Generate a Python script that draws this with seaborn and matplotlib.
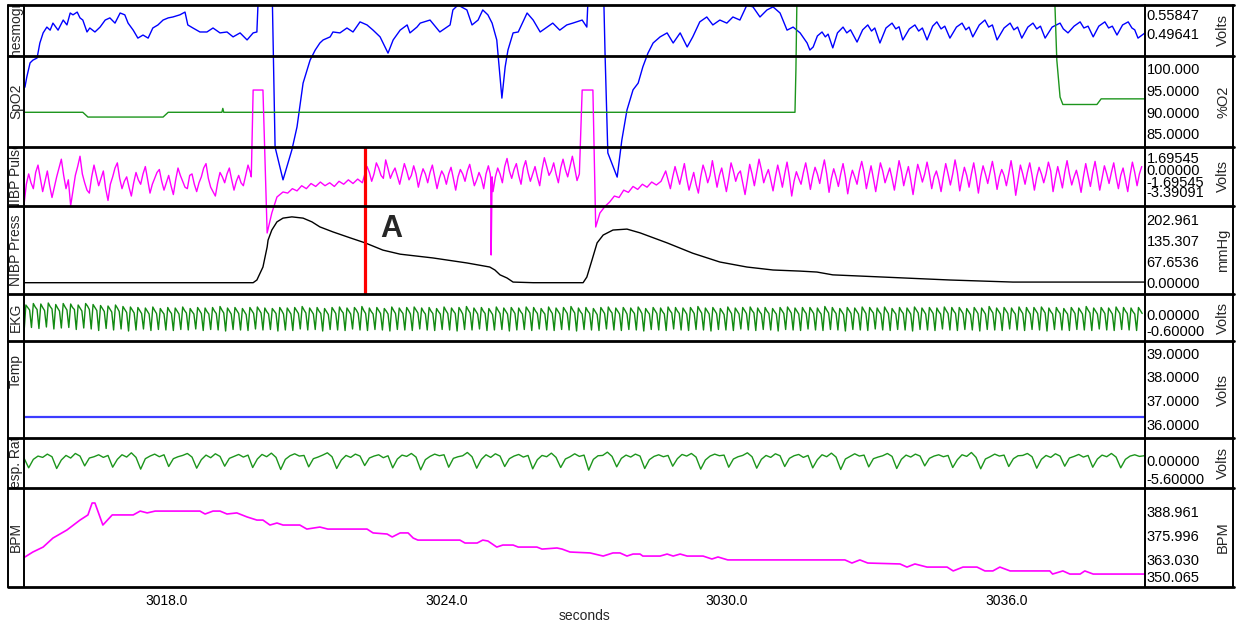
import numpy as np
import matplotlib
matplotlib.use("Agg")
import matplotlib.pyplot as plt
import seaborn as sns
from matplotlib.transforms import Bbox, TransformedBbox
from matplotlib.lines import Line2D

# ------------------------------------------------------------------ data
TIME_LIM = (3014.95, 3038.97)
XTICKS = [3018.0, 3024.0, 3030.0, 3036.0]
XTICK_LABELS = ["3018.0", "3024.0", "3030.0", "3036.0"]
X_LABEL = "seconds"

CHANNELS = ["Plethesmogram", "SpO2", "NIBP Pulse", "NIBP Press", "EKG", "Temp", "Resp. Rate", "BPM"]
UNITS = ["Volts", "%O2", "Volts", "mmHg", "Volts", "Volts", "Volts", "BPM"]
YLIMS = [(0.42455, 0.59113), (81.99, 102.99), (-4.951, 3.052), (-36.05, 244.67),
         (-1.04, 0.84), (35.421, 39.519), (-8.568, 6.732), (347.95, 401.87)]
TICK_POS = [[0.55847, 0.49641], [100.0, 95.0, 90.0, 85.0], [1.69545, 0.0, -1.69545, -3.05],
            [202.961, 135.307, 67.6536, 0.0], [0.0, -0.6], [39.0, 38.0, 37.0, 36.0],
            [0.0, -5.6], [388.961, 375.996, 363.030, 353.4]]
TICK_LABELS = [["0.55847", "0.49641"], ["100.000", "95.0000", "90.0000", "85.0000"],
               ["1.69545", "0.00000", "-1.69545", "-3.39091"],
               ["202.961", "135.307", "67.6536", "0.00000"], ["0.00000", "-0.60000"],
               ["39.0000", "38.0000", "37.0000", "36.0000"], ["0.00000", "-5.60000"],
               ["388.961", "375.996", "363.030", "350.065"]]

PLETH = [(3014.95,0.320),(3014.97,0.323),(3015.01,0.356),(3015.08,0.402),(3015.14,0.411),(3015.23,0.418),
 (3015.29,0.467),(3015.36,0.500),(3015.44,0.519),(3015.51,0.509),(3015.57,0.532),(3015.68,0.509),
 (3015.79,0.542),(3015.87,0.526),(3015.94,0.565),(3016.00,0.559),(3016.09,0.568),(3016.15,0.549),
 (3016.21,0.542),(3016.30,0.503),(3016.36,0.516),(3016.47,0.503),(3016.58,0.519),(3016.69,0.542),
 (3016.79,0.549),(3016.90,0.532),(3017.01,0.565),(3017.11,0.559),(3017.18,0.532),(3017.29,0.509),
 (3017.39,0.483),(3017.50,0.493),(3017.61,0.483),(3017.71,0.516),(3017.82,0.526),(3017.93,0.542),
 (3018.04,0.549),(3018.14,0.552),(3018.29,0.559),(3018.40,0.568),(3018.46,0.526),(3018.57,0.516),
 (3018.72,0.503),(3018.87,0.503),(3019.00,0.516),(3019.15,0.500),(3019.30,0.503),(3019.43,0.487),
 (3019.58,0.500),(3019.73,0.477),(3019.86,0.500),(3019.94,0.503),(3019.96,0.575),(3019.99,0.700),
 (3020.26,0.700),(3020.33,0.127),(3020.50,0.020),(3020.69,0.118),(3020.80,0.193),(3020.86,0.258),
 (3020.93,0.336),(3021.08,0.411),(3021.19,0.444),(3021.29,0.467),(3021.36,0.477),(3021.51,0.487),
 (3021.57,0.503),(3021.72,0.500),(3021.87,0.516),(3022.00,0.503),(3022.15,0.536),(3022.30,0.526),
 (3022.43,0.509),(3022.58,0.487),(3022.75,0.434),(3022.86,0.477),(3023.01,0.509),(3023.16,0.526),
 (3023.22,0.500),(3023.37,0.519),(3023.44,0.532),(3023.65,0.542),(3023.86,0.503),(3024.08,0.526),
 (3024.14,0.575),(3024.25,0.591),(3024.44,0.575),(3024.55,0.526),(3024.68,0.542),(3024.78,0.575),
 (3024.89,0.559),(3024.98,0.532),(3025.08,0.477),(3025.15,0.356),(3025.19,0.287),(3025.26,0.389),
 (3025.32,0.444),(3025.43,0.500),(3025.54,0.503),(3025.73,0.565),(3025.86,0.542),(3026.01,0.503),
 (3026.16,0.519),(3026.28,0.532),(3026.43,0.509),(3026.58,0.526),(3026.71,0.532),(3026.91,0.542),
 (3027.01,0.519),(3027.03,0.591),(3027.06,0.700),(3027.36,0.700),(3027.40,0.434),(3027.46,0.108),
 (3027.66,0.029),(3027.76,0.150),(3027.87,0.248),(3028.00,0.314),(3028.11,0.336),(3028.21,0.389),
 (3028.32,0.434),(3028.43,0.467),(3028.58,0.487),(3028.73,0.500),(3028.86,0.467),(3029.01,0.500),
 (3029.16,0.454),(3029.28,0.487),(3029.43,0.536),(3029.58,0.552),(3029.71,0.526),(3029.86,0.542),
 (3030.01,0.532),(3030.14,0.552),(3030.29,0.542),(3030.44,0.591),(3030.57,0.585),(3030.72,0.552),
 (3030.87,0.575),(3031.00,0.585),(3031.15,0.565),(3031.30,0.509),(3031.43,0.519),(3031.58,0.500),
 (3031.73,0.467),(3031.79,0.444),(3031.86,0.454),(3031.95,0.490),(3032.05,0.503),(3032.12,0.487),
 (3032.18,0.496),(3032.28,0.451),(3032.38,0.500),(3032.50,0.519),(3032.58,0.500),(3032.66,0.510),
 (3032.80,0.470),(3032.92,0.510),(3033.03,0.526),(3033.11,0.506),(3033.18,0.516),(3033.29,0.467),
 (3033.42,0.516),(3033.55,0.532),(3033.63,0.513),(3033.70,0.520),(3033.78,0.477),(3033.92,0.513),
 (3034.04,0.526),(3034.12,0.506),(3034.20,0.516),(3034.30,0.477),(3034.42,0.522),(3034.51,0.536),
 (3034.60,0.513),(3034.68,0.522),(3034.79,0.483),(3034.93,0.519),(3035.05,0.532),(3035.13,0.510),
 (3035.20,0.519),(3035.28,0.487),(3035.42,0.526),(3035.54,0.542),(3035.62,0.519),(3035.70,0.526),
 (3035.80,0.477),(3035.95,0.516),(3036.08,0.532),(3036.16,0.510),(3036.24,0.519),(3036.33,0.483),
 (3036.46,0.519),(3036.57,0.532),(3036.65,0.513),(3036.73,0.522),(3036.83,0.483),(3036.98,0.519),
 (3037.15,0.532),(3037.22,0.513),(3037.32,0.500),(3037.45,0.522),(3037.58,0.536),(3037.66,0.516),
 (3037.75,0.522),(3037.86,0.487),(3037.98,0.522),(3038.11,0.536),(3038.19,0.516),(3038.27,0.522),
 (3038.37,0.493),(3038.49,0.526),(3038.61,0.536),(3038.69,0.516),(3038.75,0.510),(3038.82,0.483),
 (3038.97,0.500)]

SPO2 = [(3014.95,90.0),(3016.21,90.0),(3016.32,88.9),(3017.93,88.9),(3018.04,90.0),(3019.19,90.0),
 (3019.21,90.9),(3019.23,90.0),(3031.47,90.0),(3031.49,99.8),(3031.51,114.8),(3031.53,125.0),
 (3037.02,125.0),(3037.04,114.8),(3037.08,102.1),(3037.15,93.5),(3037.21,91.8),(3037.94,91.8),
 (3038.03,93.1),(3038.97,93.1)]

PULSE_DT = 0.05
PULSE_A_T0 = 3014.95
PULSE_A = [-4.8,-2.0,-0.6,-1.8,-2.6,-0.4,0.6,-1.2,-3.0,-1.6,
 -0.2,-2.2,-3.8,-2.4,-1.0,0.2,1.4,-0.8,-2.6,-1.4,
 -4.9,-2.8,-0.8,0.4,1.8,-0.6,-1.8,-2.8,-3.2,-1.0,
 0.6,-0.8,-2.2,-1.2,-0.2,-2.6,-4.2,-2.0,-1.0,0.2,
 0.9,-1.2,-2.6,-1.6,-1.0,-2.4,-3.6,-1.8,-0.4,-1.4,
 -2.0,-0.6,0.4,-1.4,-3.2,-2.0,-1.2,-0.4,0.0,-1.6,
 -2.8,-1.8,-0.8,-2.2,-3.4,-1.4,0.2,-0.8,-1.6,-2.4,
 -2.6,-0.8,-0.6,-2.0,-3.0,-1.8,-1.0,0.2,0.8,-1.2,
 -2.4,-3.0,-3.6,-1.8,-0.4,-1.0,-1.8,-0.6,0.2,-1.4,
 -2.8,-1.6,-0.8,-1.8,-2.2,-0.8,0.6,-0.4]
PULSE_EVENT1 = [(3019.82,-1.0),(3019.86,10.78),(3020.07,10.78),(3020.16,-8.61),(3020.26,-5.90),
 (3020.37,-3.73),(3020.50,-3.05),(3020.6,-3.2),(3020.7,-2.6),(3020.8,-2.9),(3020.9,-2.2),(3021.0,-2.6),
 (3021.1,-1.9),(3021.2,-2.3),(3021.3,-1.7),(3021.4,-2.2),(3021.5,-1.8),(3021.6,-2.3),(3021.7,-1.6),
 (3021.8,-2.0),(3021.9,-1.4),(3022.0,-1.9),(3022.1,-1.3),(3022.2,-1.8)]
PULSE_B_T0 = 3022.3
PULSE_B = [0.4,-0.4,-1.6,-0.6,0.9,0.2,-0.8,-1.2,1.3,0.1,
 -1.2,-0.4,0.2,-0.9,-2.0,-0.6,0.8,-0.2,-1.4,-0.8,
 0.5,-0.6,-2.4,-1.0,0.1,-0.6,-1.8,-0.4,0.6,-1.0,
 -2.6,-1.2,-0.2,-0.8,-2.0,-0.6,0.3,-1.2,-2.8,-1.0,
 0.0,-0.6,-1.6,-0.2,0.7,-0.8,-2.2,-1.4,-0.4,-1.2,
 -2.6,-0.6,0.5,-1.2,-3.0,-1.0,0.2,-0.6,-1.8,0.4,
 1.5,-0.2,-1.2,0.0,0.8,-0.8,-2.0,0.2,1.2,-0.4,
 -1.6,-0.6,0.4,-1.0,-2.2,0.0,1.6,0.4,-0.8,-0.2,
 0.9,-0.6,-1.8,0.2,1.4,0.0,-1.0,0.4,1.8,0.2,
 -1.5]
PULSE_SPIKE = [(3024.94,-0.6),(3024.96,-11.6),(3024.98,-1.0)]
PULSE_EVENT2 = [(3026.85,-0.6),(3026.91,10.78),(3027.14,10.78),(3027.20,-7.80),(3027.29,-5.90),
 (3027.4,-5.0),(3027.5,-4.4),(3027.6,-3.6),(3027.7,-3.8),(3027.8,-2.8),(3027.9,-3.1),(3028.0,-2.3),
 (3028.1,-2.7),(3028.2,-2.0),(3028.3,-2.4),(3028.4,-1.7),(3028.5,-2.1),(3028.6,-1.6)]
PULSE_C_T0 = 3028.7
PULSE_C = [-0.2,-1.4,-2.6,-1.0,0.4,-0.8,-2.0,-0.6,0.8,-1.2,
 -2.8,-1.6,-0.4,-2.0,-3.2,-1.0,0.6,-0.4,-1.8,-0.8,
 1.2,-0.6,-2.4,-0.8,0.2,-1.4,-3.0,-1.2,0.9,-0.2,
 -1.6,-0.6,-0.2,-1.8,-3.4,-1.4,0.7,-0.6,-2.2,-0.4,
 1.4,0.0,-1.8,-0.8,0.0,-1.4,-2.9,-1.0,0.6,-0.8,
 -2.4,-0.6,1.0,-1.0,-3.6,-1.6,-0.3,-1.2,-2.0,-0.4,
 0.9,-0.8,-2.7,-1.0,0.3,-0.6,-1.9,-0.2,1.3,-0.6,
 -3.1,-1.2,0.1,-1.0,-2.3,-0.6,0.8,-1.0,-3.3,-1.4,
 -0.1,-1.0,-2.0,-0.2,1.1,-0.4,-2.6,-1.0,0.5,-1.2,
 -3.0,-1.0,0.9,-0.2,-1.8,-0.8,0.2,-1.2,-2.8,-0.8,
 1.2,-0.2,-2.2,-0.8,0.4,-1.4,-3.4,-1.2,0.7,-0.4,
 -1.7,-0.6,1.0,-0.6,-2.6,-1.0,-0.2,-1.4,-3.0,-1.0,
 0.8,-0.6,-2.1,-0.6,1.3,-0.4,-2.9,-1.2,0.3,-0.8,
 -2.4,-0.6,0.9,-1.0,-3.2,-1.0,0.5,-0.6,-1.9,-0.4,
 1.1,-0.6,-2.7,-1.0,0.0,-0.8,-2.2,-0.6,1.2,-0.8,
 -3.5,-1.4,0.6,-0.6,-2.0,-0.4,0.9,-0.8,-2.8,-1.0,
 0.3,-0.6,-1.8,-0.6,1.0,-0.2,-3.0,-1.2,0.4,-1.0,
 -2.5,-0.4,1.2,-0.6,-2.1,-1.0,-0.1,-1.4,-3.1,-1.0,
 0.8,-0.8,-2.3,-0.4,1.1,-0.8,-2.8,-1.2,0.5,-0.6,
 -1.9,-0.4,0.9,-1.0,-2.6,-0.8,0.2,-1.4,-3.0,-0.8,
 1.0,-0.4,-2.2,-0.6,0.4]

PRESS = [(3014.95,0),(3019.86,0),(3019.94,8.6),(3020.07,50),(3020.16,114),(3020.18,136),(3020.26,168),
 (3020.37,194),(3020.50,206),(3020.69,210),(3020.93,206),(3021.12,194),(3021.29,178),(3021.57,162),
 (3021.94,143),(3022.26,127),(3022.64,104),(3023.01,91),(3023.71,79),(3024.44,63),(3024.93,50),
 (3025.04,40.5),(3025.15,25),(3025.30,15),(3025.43,2),(3025.86,0),(3026.93,0),(3027.01,18),
 (3027.12,72),(3027.23,127),(3027.36,152),(3027.57,168),(3027.87,171),(3028.15,159),(3028.73,127),
 (3029.28,94),(3029.86,66),(3030.44,50),(3031.00,40.5),(3031.58,37),(3031.94,34),(3032.28,25),
 (3033.36,18),(3034.79,8.6),(3036.14,2),(3038.97,2)]

EKG_T0 = 3014.95
EKG_DT = 0.04
EKG_V = [
 -0.72,0.40,0.30,0.20,-0.50,0.46,0.32,0.22,-0.54,0.44,0.30,0.18,-0.48,0.48,0.34,0.24,-0.56,0.42,0.28,0.16,
 -0.52,0.46,0.32,0.20,-0.50,0.44,0.30,0.22,-0.58,0.40,0.28,0.16,-0.52,0.46,0.36,0.22,-0.56,0.42,0.30,0.18,
 -0.62,0.38,0.26,0.14,-0.54,0.36,0.24,0.12,-0.60,0.40,0.28,0.14,-0.56,0.34,0.22,0.10,-0.64,0.32,0.20,0.08,
 -0.60,0.30,0.18,0.06,-0.56,0.28,0.16,0.04,-0.62,0.32,0.18,0.06,-0.58,0.26,0.14,0.04,-0.60,0.30,0.16,0.06,
 -0.62,0.28,0.16,0.04,-0.58,0.32,0.18,0.08,-0.60,0.26,0.14,0.04,-0.56,0.30,0.18,0.06,-0.62,0.28,0.14,0.04,
 -0.58,0.30,0.16,0.06,-0.60,0.34,0.20,0.08,-0.64,0.28,0.16,0.04,-0.58,0.30,0.18,0.06,-0.60,0.26,0.14,0.02,
 -0.62,0.30,0.18,0.06,-0.56,0.32,0.20,0.08,-0.60,0.28,0.14,0.04,-0.58,0.26,0.16,0.06,-0.64,0.30,0.18,0.04,
 -0.60,0.28,0.16,0.04,-0.62,0.30,0.18,0.06,-0.56,0.34,0.20,0.08,-0.60,0.28,0.16,0.04,-0.58,0.30,0.16,0.06,
 -0.64,0.26,0.14,0.02,-0.58,0.30,0.18,0.06,-0.60,0.32,0.18,0.08,-0.62,0.28,0.16,0.04,-0.56,0.30,0.20,0.06,
 -0.60,0.34,0.18,0.06,-0.62,0.28,0.14,0.04,-0.58,0.30,0.18,0.06,-0.60,0.26,0.16,0.04,-0.64,0.32,0.18,0.06,
 -0.58,0.28,0.16,0.06,-0.60,0.30,0.18,0.04,-0.62,0.32,0.20,0.08,-0.56,0.28,0.14,0.04,-0.60,0.30,0.16,0.06,
 -0.62,0.26,0.14,0.04,-0.58,0.32,0.18,0.06,-0.60,0.28,0.16,0.06,-0.64,0.30,0.18,0.04,-0.58,0.34,0.20,0.08,
 -0.60,0.28,0.16,0.04,-0.56,0.30,0.16,0.06,-0.62,0.26,0.14,0.02,-0.60,0.32,0.18,0.06,-0.58,0.28,0.16,0.04,
 -0.64,0.30,0.18,0.06,-0.60,0.28,0.14,0.04,-0.58,0.32,0.20,0.08,-0.62,0.30,0.16,0.06,-0.56,0.26,0.14,0.04,
 -0.60,0.32,0.18,0.06,-0.62,0.28,0.16,0.04,-0.58,0.30,0.18,0.06,-0.60,0.34,0.20,0.08,-0.64,0.28,0.14,0.04,
 -0.58,0.30,0.16,0.06,-0.60,0.26,0.14,0.02,-0.62,0.30,0.18,0.06,-0.56,0.32,0.18,0.08,-0.60,0.28,0.16,0.04,
 -0.62,0.30,0.18,0.04,-0.58,0.28,0.16,0.06,-0.60,0.32,0.20,0.06,-0.64,0.26,0.14,0.04,-0.58,0.30,0.18,0.06,
 -0.60,0.28,0.14,0.04,-0.62,0.32,0.18,0.08,-0.56,0.30,0.16,0.06,-0.60,0.28,0.16,0.04,-0.62,0.30,0.18,0.06,
 -0.58,0.34,0.20,0.08,-0.60,0.28,0.16,0.04,-0.64,0.30,0.18,0.06,-0.58,0.26,0.14,0.02,-0.60,0.32,0.18,0.06,
 -0.62,0.28,0.16,0.04,-0.56,0.30,0.18,0.06,-0.60,0.32,0.18,0.08,-0.62,0.28,0.14,0.04,-0.58,0.30,0.16,0.06,
 -0.60,0.26,0.14,0.04,-0.64,0.30,0.18,0.06,-0.58,0.32,0.20,0.08,-0.60,0.28,0.16,0.04,-0.62,0.30,0.16,0.06,
 -0.56,0.30,0.18,0.06,-0.60,0.28,0.14,0.04,-0.62,0.34,0.20,0.08,-0.58,0.30,0.16,0.06,-0.60,0.26,0.14,0.02,
 -0.64,0.30,0.18,0.06,-0.58,0.28,0.16,0.04,-0.60,0.32,0.18,0.06,-0.62,0.30,0.18,0.08,-0.56,0.28,0.14,0.04,
 -0.60,0.32,0.18,0.06,-0.62,0.26,0.14,0.04,-0.58,0.30,0.16,0.06,-0.60,0.28,0.16,0.04,-0.64,0.32,0.20,0.08,
 -0.58,0.28,0.16,0.04,-0.60,0.30,0.18,0.06,-0.62,0.28,0.14,0.04,-0.56,0.32,0.18,0.06,-0.60,0.30,0.16,0.06,
 -0.62,0.30,0.18,0.06,-0.58,0.26,0.14,0.02,-0.60,0.30,0.18,0.06,-0.64,0.28,0.16,0.04,-0.58,0.34,0.20,0.08,
 -0.60,0.28,0.16,0.04,-0.62,0.30,0.18,0.06,-0.56,0.28,0.14,0.04,-0.60,0.32,0.18,0.06,-0.62,0.30,0.16,0.04,
 -0.58,0.30,0.18,0.06,-0.60,0.32,0.20,0.08,-0.64,0.28,0.14,0.04,-0.58,0.30,0.16,0.06,-0.60,0.26,0.14,0.04,
 -0.62,0.30,0.18,0.06,-0.58,0.28,0.16,0.04,-0.60,0.34,0.20,0.08,-0.62,0.28,0.16,0.04,-0.56,0.30,0.18,0.06,
 -0.60,0.28,0.16,0.04,-0.62,0.32,0.18,0.06,-0.58,0.30,0.16,0.06,-0.60,0.28,0.14,0.04,-0.62,0.30,0.18,0.06]

TEMP = [(3014.95, 36.32), (3038.97, 36.32)]

RESP_T0 = 3014.95
RESP_DT = 0.1
RESP_V = [0.6,
 -2.4,0.2,1.2,0.8,1.8,1.0, -2.6,0.0,1.4,0.6,2.0,1.2,
 -1.8,0.6,1.0,1.6,0.8,1.4, -2.2,0.2,1.6,0.9,2.2,0.8,
 -2.8,0.4,1.2,1.8,1.0,1.6, -2.0,0.4,1.0,1.4,2.0,0.9,
 -2.5,0.1,1.5,0.7,1.9,1.1, -1.9,0.5,1.1,1.7,0.9,1.5,
 -2.3,0.3,1.7,1.0,2.1,0.8, -2.9,0.2,1.3,1.9,1.2,1.4,
 -2.1,0.4,0.9,1.5,2.2,1.0, -2.6,0.0,1.4,0.8,1.8,1.2,
 -1.7,0.6,1.2,1.6,0.7,1.3, -2.4,0.3,1.5,1.1,2.0,0.9,
 -3.0,0.1,1.1,1.8,1.3,1.6, -2.2,0.5,1.0,1.3,2.3,1.0,
 -2.5,0.2,1.6,0.8,1.9,1.2, -2.0,0.4,1.2,1.7,0.9,1.4,
 -2.7,0.1,1.4,1.0,2.1,0.8, -2.3,0.3,1.0,1.9,1.1,1.5,
 -3.1,0.2,1.3,1.4,2.4,1.1, -2.1,0.5,1.5,0.9,1.8,1.2,
 -2.6,0.1,1.1,1.6,1.0,1.4, -1.9,0.4,1.7,1.2,2.0,0.9,
 -2.8,0.0,1.2,1.8,1.3,1.5, -2.2,0.3,1.0,1.4,2.2,1.0,
 -2.5,0.2,1.4,0.8,1.9,1.3, -2.0,0.5,1.3,1.7,0.8,1.4,
 -2.4,0.1,1.6,1.0,2.1,0.9, -2.9,0.3,1.1,1.9,1.2,1.5,
 -2.1,0.4,0.9,1.3,2.0,1.1, -2.6,0.2,1.5,0.9,1.8,1.2,
 -1.8,0.5,1.2,1.6,1.0,1.4, -2.3,0.1,1.6,1.1,2.3,0.8,
 -2.7,0.3,1.0,1.8,1.2,1.5, -2.0,0.4,1.3,1.4,2.0,1.0,
 -2.5,0.2,1.4,0.8,1.9,1.2, -1.9,0.6,1.1,1.7,0.9,1.4,
 -2.2,0.3,1.5,1.0,2.0,0.9, -2.4,0.2,1.2,1.6,1.1,1.3]

BPM = [(3014.95,364.3),(3014.97,364.3),(3015.14,367.0),(3015.36,369.7),(3015.57,374.6),(3015.87,379.0),
 (3016.15,384.4),(3016.32,387.2),(3016.41,393.7),(3016.47,393.7),(3016.64,381.7),(3016.84,387.2),
 (3017.29,387.2),(3017.44,389.3),(3017.59,388.3),(3017.76,389.3),(3018.72,389.3),(3018.83,387.7),
 (3019.00,389.3),(3019.15,389.3),(3019.30,387.7),(3019.51,388.3),(3019.73,386.1),(3019.94,384.4),
 (3020.07,384.4),(3020.22,381.7),(3020.37,382.8),(3020.50,381.7),(3020.86,381.7),(3021.01,379.5),
 (3021.29,380.6),(3021.46,379.5),(3022.30,379.5),(3022.43,377.4),(3022.73,376.8),(3022.84,375.2),
 (3023.01,377.4),(3023.18,377.4),(3023.29,374.6),(3023.39,373.5),(3024.29,373.5),(3024.40,371.9),
 (3024.66,371.9),(3024.78,373.5),(3024.89,373.0),(3025.08,369.7),(3025.21,370.8),(3025.43,370.8),
 (3025.54,369.7),(3025.94,369.7),(3026.05,368.6),(3026.37,369.2),(3026.48,368.6),(3026.65,367.0),
 (3027.08,366.5),(3027.36,364.8),(3027.57,366.5),(3027.72,366.5),(3027.87,364.8),(3028.00,365.9),
 (3028.15,365.9),(3028.21,364.8),(3028.58,364.8),(3028.73,365.9),(3028.86,364.8),(3029.01,365.9),
 (3029.16,364.8),(3029.50,364.8),(3029.69,363.2),(3029.82,364.3),(3030.03,362.7),(3032.54,362.7),
 (3032.69,361.0),(3032.86,362.7),(3033.03,361.0),(3033.72,360.5),(3033.87,358.8),(3034.04,360.5),
 (3034.30,358.8),(3034.73,358.8),(3034.86,356.7),(3035.07,358.8),(3035.37,358.8),(3035.54,356.7),
 (3035.71,356.7),(3035.86,358.8),(3036.08,356.7),(3036.93,356.7),(3036.99,355.0),(3037.21,356.7),
 (3037.36,355.0),(3037.58,355.0),(3037.68,356.7),(3037.86,355.0),(3038.97,355.0)]

MARKER_T = 3022.26
MARKER_TEXT = "A"
MARKER_TEXT_POS = (3022.81, 171.0)

# ------------------------------------------------------------------ figure
sns.set_style("white")
plt.rcParams['font.family'] = ['Liberation Sans', 'DejaVu Sans']

W, H = 1241, 623
fig = plt.figure(figsize=(W / 100, H / 100), dpi=100, facecolor='white')

X0, X1 = 24, 1145
EDGES = [5, 56, 147, 206, 294, 341, 438, 488, 587]
LABEL_Y = [0.5, 0.5, 0.5, 0.5, 0.5, 0.69, 0.5, 0.5]


def rect(x0, y0, x1, y1):
    return [x0 / W, 1 - y1 / H, (x1 - x0) / W, (y1 - y0) / H]


area = TransformedBbox(Bbox.from_extents(X0 / W, 1 - EDGES[-1] / H, X1 / W, 1 - EDGES[0] / H),
                       fig.transFigure)

axes = []
for i in range(8):
    top, bot = EDGES[i], EDGES[i + 1]
    ax = fig.add_axes(rect(X0, top, X1, bot))
    ax.set_facecolor('none')
    axes.append(ax)
    lab = fig.add_axes(rect(8, top, 24, bot))
    lab.axis('off')
    lab.text(0.5, LABEL_Y[i], CHANNELS[i], rotation=90, ha='center', va='center',
             fontsize=10, clip_on=True, transform=lab.transAxes)
    fig.text(1223 / W, 1 - (top + bot) / 2 / H, UNITS[i], rotation=90,
             ha='center', va='center', fontsize=10.5)


def trace(ax, t, v, color, lw):
    t = np.asarray(t, dtype=float)
    v = np.asarray(v, dtype=float)
    order = np.argsort(t, kind='stable')
    sns.lineplot(x=t[order], y=v[order], ax=ax, color=color, linewidth=lw,
                 estimator=None, sort=False)
    ax.lines[-1].set_clip_box(area)


def pairs(p):
    a = np.asarray(p, dtype=float)
    return a[:, 0], a[:, 1]


def uniform(t0, dt, vals):
    return t0 + dt * np.arange(len(vals)), np.asarray(vals, dtype=float)


BLUE, GREEN, MAGENTA = '#0000ff', '#1c951c', '#ff00ff'

trace(axes[0], *pairs(PLETH), BLUE, 1.0)
trace(axes[1], *pairs(SPO2), GREEN, 1.0)

pt, pv = [], []
for seg in (uniform(PULSE_A_T0, PULSE_DT, PULSE_A), pairs(PULSE_EVENT1),
            uniform(PULSE_B_T0, PULSE_DT, PULSE_B), pairs(PULSE_SPIKE),
            pairs(PULSE_EVENT2), uniform(PULSE_C_T0, PULSE_DT, PULSE_C)):
    pt.append(seg[0]); pv.append(seg[1])
trace(axes[2], np.concatenate(pt), np.concatenate(pv), MAGENTA, 1.0)

trace(axes[3], *pairs(PRESS), 'black', 1.0)
trace(axes[4], *uniform(EKG_T0, EKG_DT, EKG_V), '#118a11', 1.0)
trace(axes[5], *pairs(TEMP), '#3c3cff', 1.6)
trace(axes[6], *uniform(RESP_T0, RESP_DT, RESP_V), GREEN, 1.0)
trace(axes[7], *pairs(BPM), MAGENTA, 1.2)

for i, ax in enumerate(axes):
    for s in ax.spines.values():
        s.set_visible(False)
    ax.set_xlim(*TIME_LIM)
    ax.set_ylim(*YLIMS[i])
    ax.set_xlabel('')
    ax.set_ylabel('')
    ax.yaxis.tick_right()
    ax.set_yticks(TICK_POS[i])
    ax.set_yticklabels(TICK_LABELS[i])
    ax.tick_params(axis='y', length=0, pad=1.2, labelsize=10.5, colors='black')
    ax.set_xticks([])
    ax.grid(False)

# marker line and label
span = fig.add_axes(rect(X0, EDGES[2], X1, EDGES[4]))
span.set_facecolor('none')
span.axis('off')
span.set_xlim(*TIME_LIM)
span.axvline(MARKER_T, color='#ff0000', lw=2.3)
axes[3].text(MARKER_TEXT_POS[0], MARKER_TEXT_POS[1], MARKER_TEXT, fontsize=22,
             fontweight='bold', ha='center', va='center')

# time axis
bax = axes[7]
bax.set_xticks(XTICKS)
bax.set_xticklabels(XTICK_LABELS)
bax.tick_params(axis='x', length=0, pad=5, labelsize=10, colors='black')
bax.set_xlabel(X_LABEL, fontsize=10, labelpad=1)

# frame
for y in EDGES:
    fig.add_artist(Line2D([7.5 / W, 1233.5 / W], [1 - y / H, 1 - y / H],
                          transform=fig.transFigure, color='black', lw=2.0))
for x in (7.5, 24, 1145, 1233):
    fig.add_artist(Line2D([x / W, x / W], [1 - EDGES[0] / H, 1 - EDGES[-1] / H],
                          transform=fig.transFigure, color='black', lw=1.4))

fig.savefig("out.png", dpi=100, facecolor='white')
